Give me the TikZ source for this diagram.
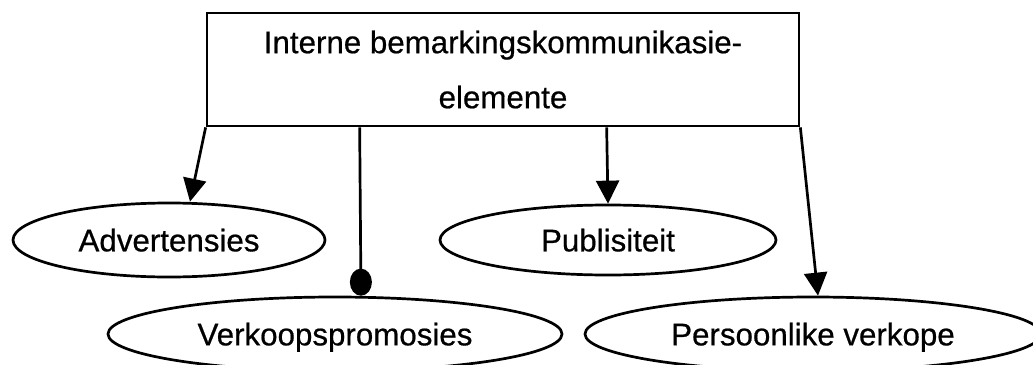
\documentclass[tikz,border=0pt]{standalone}
\usepackage{fontspec}
\setmainfont{Liberation Sans}
\newfontfamily\labelfont{Liberation Sans}[FakeBold=0.6]
\usetikzlibrary{arrows.meta,shapes.geometric}
\begin{document}
\begin{tikzpicture}[x=1pt,y=-1pt,
  every node/.style={font=\labelfont\fontsize{31.3}{55}\selectfont},
  line width=2.7pt,
  box/.style={draw, rectangle, minimum width=592pt, minimum height=113pt,
              align=center, inner sep=0pt},
  oval/.style={draw, ellipse, inner sep=0pt, text depth=0pt},
  link/.style={-{Triangle[length=23pt,width=23pt]}},
  dotlink/.style={-{Circle[length=27pt,width=22pt]}}]
\useasboundingbox (0,0) rectangle (1033,364);

% main box
\node[box] (top) at (503,69.5) {Interne bemarkingskommunikasie-\\elemente};

% the four elements
\node[oval, minimum width=312pt, minimum height=74pt] (adv)  at (169,240) {Advertensies};
\node[oval, minimum width=336pt, minimum height=70pt] (pub)  at (608,240) {Publisiteit};
\node[oval, minimum width=454pt, minimum height=74pt] (verk) at (335,334) {Verkoopspromosies};
\node[oval, minimum width=456pt, minimum height=74pt] (pers) at (813,334) {Persoonlike verkope};

% start points along the bottom edge of the box
\coordinate (sA) at (top.south west);
\coordinate (sV) at ([xshift=154pt]top.south west);
\coordinate (sP) at ([xshift=401pt]top.south west);
\coordinate (sR) at (top.south east);

% connectors
\draw[link]    (sA) -- ([xshift=21pt]adv.north);
\draw[dotlink] (sV) -- ([xshift=26pt]verk.north);
\draw[link]    (sP) -- (pub.north);
\draw[link]    (sR) -- ([xshift=5pt]pers.north);
\end{tikzpicture}
\end{document}
